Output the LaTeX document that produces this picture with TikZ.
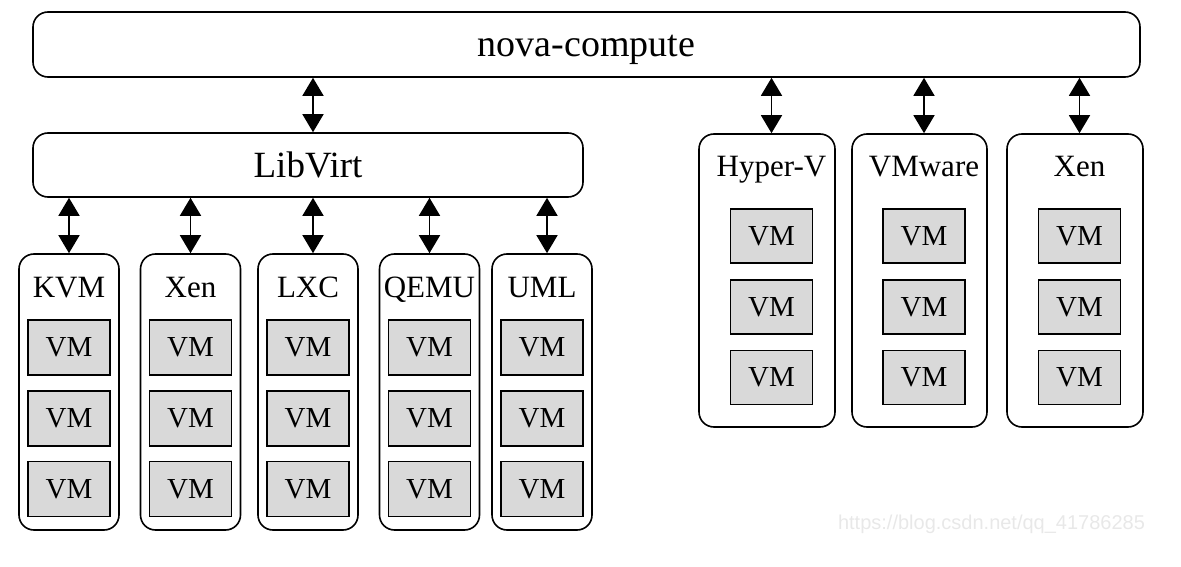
\documentclass[tikz,border=0pt]{standalone}
\usepackage{fontspec}
\setmainfont{Liberation Serif}
\usetikzlibrary{arrows.meta,positioning}

\definecolor{vmgray}{RGB}{217,217,217}
\definecolor{markgray}{RGB}{232,232,232}

\tikzset{
  box/.style={draw, line width=1.6pt, rounded corners=15pt, inner sep=0pt},
  title/.style={anchor=base, inner sep=0pt, font=\fontsize{31}{31}\selectfont},
  vmbox/.style={draw, line width=1.6pt, fill=vmgray, minimum width=82pt,
    minimum height=55pt, inner sep=0pt, font=\fontsize{29}{29}\selectfont},
  link/.style={line width=1.5pt,
    {Triangle[length=18pt,width=21pt]}-{Triangle[length=18pt,width=21pt]}},
}

\begin{document}
\begin{tikzpicture}[x=1pt,y=-1pt]
  \useasboundingbox (0,0) rectangle (1181,567);

  \node[box, minimum width=1107pt, minimum height=65pt, text height=25pt,
    text depth=0pt, font=\fontsize{38}{38}\selectfont] (nova) at (586.5,44.5) {nova-compute};
  \node[box, minimum width=550pt, minimum height=64pt,
    font=\fontsize{37}{37}\selectfont] (libvirt) at (308,165) {LibVirt};

  \coordinate (lv) at ([xshift=5pt]libvirt.north);
  \draw[link] (nova.south -| lv) -- (lv);

  % hypervisors under libvirt
  \foreach \name/\title/\x in {kvm/KVM/69, xenl/Xen/190.5, lxc/LXC/308,
      qemu/QEMU/429.5, uml/UML/542} {
    \node[box, minimum width=100pt, minimum height=276pt] (\name) at (\x,392) {};
    \node[title] (\name-t) at ([yshift=-44pt]\name.north) {\title};
    \node[vmbox] (\name-vm1) at ([yshift=-94.5pt]\name.north) {VM};
    \node[vmbox, below=14pt of \name-vm1] (\name-vm2) {VM};
    \node[vmbox, below=14pt of \name-vm2] (\name-vm3) {VM};
  }
  \foreach \name/\dx in {kvm/0, xenl/0, lxc/5, qemu/0, uml/5} {
    \coordinate (\name-a) at ([xshift=\dx pt]\name.north);
    \draw[link] (libvirt.south -| \name-a) -- (\name-a);
  }

  % hypervisors driven directly
  \foreach \name/\title/\x/\w in {hyperv/Hyper-V/767/136, vmware/VMware/919.5/135,
      xenr/Xen/1075/136} {
    \node[box, minimum width=\w pt, minimum height=293pt] (\name) at (\x,280.5) {};
    \coordinate (\name-c) at ([xshift=4.5pt]\name.north);
    \node[title] (\name-t) at ([yshift=-43pt]\name-c) {\title};
    \node[vmbox, minimum height=54pt] (\name-vm1) at ([yshift=-103pt]\name-c) {VM};
    \node[vmbox, minimum height=54pt, below=15pt of \name-vm1] (\name-vm2) {VM};
    \node[vmbox, minimum height=54pt, below=15pt of \name-vm2] (\name-vm3) {VM};
    \draw[link] (nova.south -| \name-c) -- (\name-c);
  }

  \node[font=\fontspec{Liberation Sans}\fontsize{20}{20}\selectfont, text=markgray,
    inner sep=0pt] (mark) at (991.5,524) {https://blog.csdn.net/qq\_41786285};
\end{tikzpicture}
\end{document}
